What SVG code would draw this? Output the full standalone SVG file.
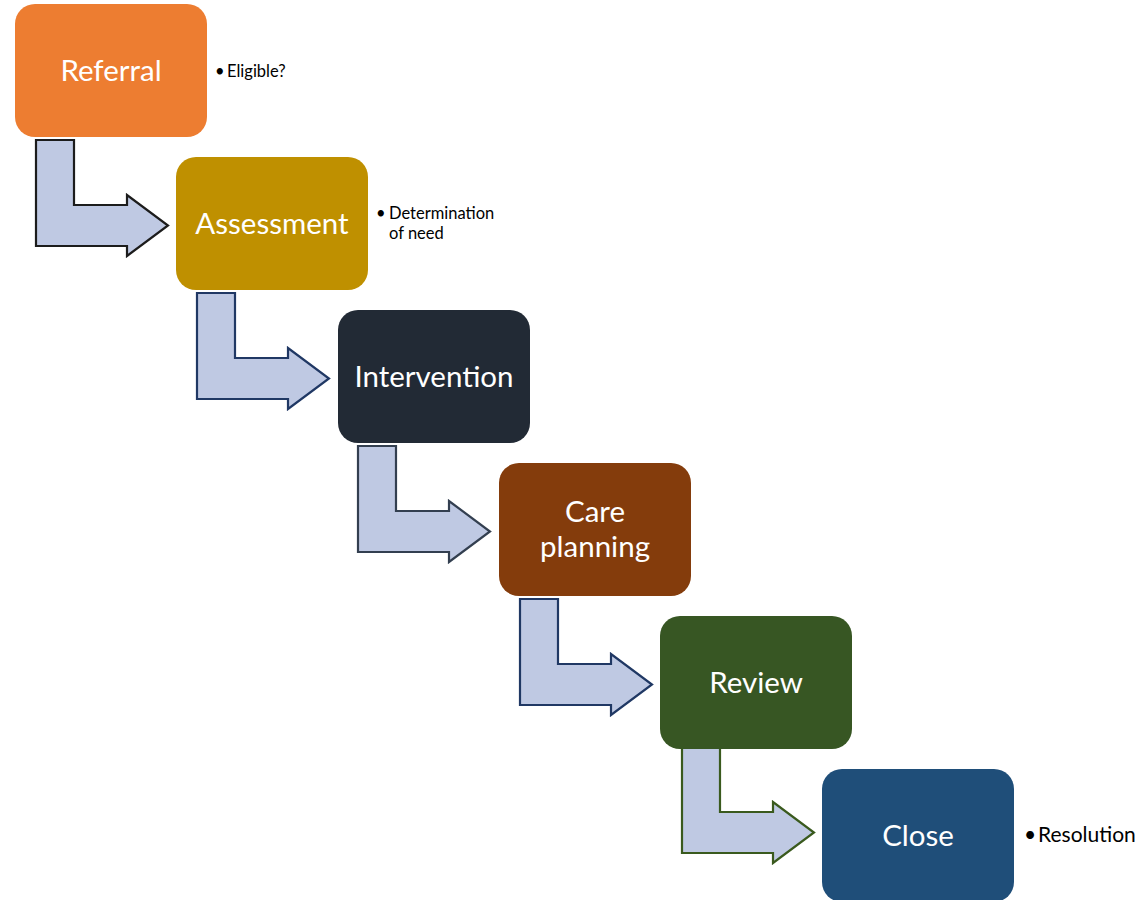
<svg xmlns="http://www.w3.org/2000/svg" width="1146" height="900" viewBox="0 0 1146 900">
<style>
.box{stroke:none}
.lbl{font-family:Lato,"Open Sans","Liberation Sans",sans-serif;font-size:29.5px;fill:#ffffff;text-anchor:middle}
.note{font-family:Lato,"Open Sans","Liberation Sans",sans-serif;fill:#000000}
.arr{fill:#bfc9e3;stroke-width:2.2;stroke-linejoin:miter}
</style>
<defs>
<path id="arrowShape" d="M36,140 L74,140 L74,205 L127,205 L127,195 L168,225.5 L127,256 L127,246 L36,246 Z"/>
</defs>
<rect width="1146" height="900" fill="#ffffff"/>
<g id="connectors">
<use href="#arrowShape" class="arr" stroke="#1c1c1c"/>
<use href="#arrowShape" class="arr" stroke="#203864" transform="translate(161,153)"/>
<use href="#arrowShape" class="arr" stroke="#333f50" transform="translate(322,306)"/>
<use href="#arrowShape" class="arr" stroke="#203864" transform="translate(484,459)"/>
<use href="#arrowShape" class="arr" stroke="#3a5a1e" transform="translate(646,607)"/>
</g>
<g id="referral">
<rect class="box" x="15" y="4" width="192" height="133" rx="20" fill="#ed7d31"/>
<text class="lbl" x="111" y="81">Referral</text>
<text class="note" font-size="16.5"><tspan x="215" y="77">•</tspan><tspan x="227" y="77">Eligible?</tspan></text>
</g>
<g id="assessment">
<rect class="box" x="176" y="157" width="192" height="133" rx="20" fill="#bf9000"/>
<text class="lbl" x="272" y="234">Assessment</text>
<text class="note" font-size="16.5"><tspan x="376" y="219">•</tspan><tspan x="389" y="219">Determination</tspan><tspan x="389" y="239">of need</tspan></text>
</g>
<g id="intervention">
<rect class="box" x="338" y="310" width="192" height="133" rx="20" fill="#222a35"/>
<text class="lbl" x="434" y="387">Intervention</text>
</g>
<g id="careplanning">
<rect class="box" x="499" y="463" width="192" height="133" rx="20" fill="#843c0c"/>
<text class="lbl" x="595" y="522">Care</text>
<text class="lbl" x="595" y="557">planning</text>
</g>
<g id="review">
<rect class="box" x="660" y="616" width="192" height="133" rx="20" fill="#375623"/>
<text class="lbl" x="756" y="693">Review</text>
</g>
<g id="close">
<rect class="box" x="822" y="769" width="192" height="133" rx="20" fill="#1f4e79"/>
<text class="lbl" x="918" y="846">Close</text>
<text class="note" font-size="21"><tspan x="1024" y="842">•</tspan><tspan x="1038" y="842">Resolution</tspan></text>
</g>
</svg>
